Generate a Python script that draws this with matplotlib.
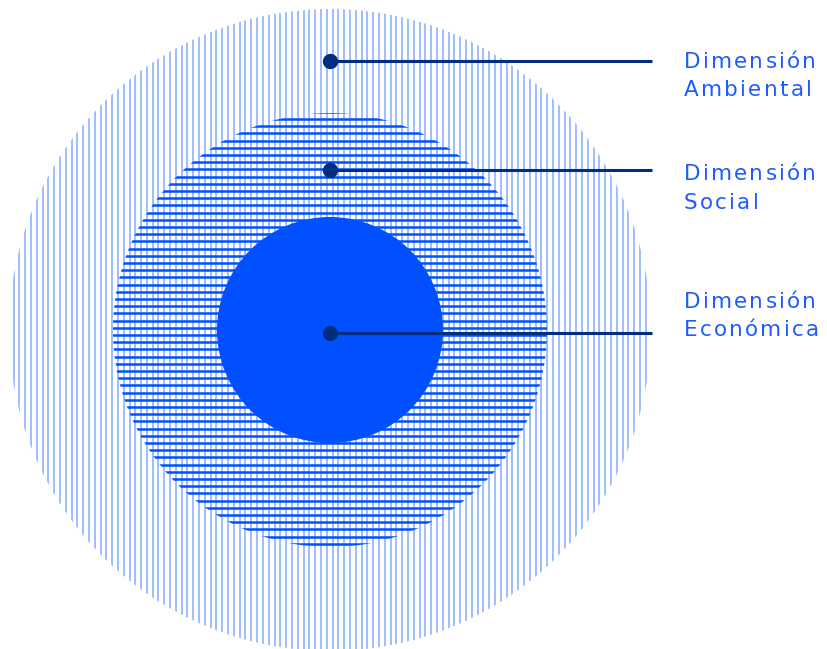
import numpy as np
import matplotlib
matplotlib.use('Agg')
import matplotlib.pyplot as plt
from matplotlib.patches import Circle
from matplotlib.font_manager import FontProperties

# data: the three nested dimensions (outer -> inner)
labels = [['Dimensión', 'Ambiental'], ['Dimensión', 'Social'], ['Dimensión', 'Económica']]
radii = [321, 217, 113]
marker_y = [61, 170, 333]
baselines = [[67.5, 96], [180.5, 209], [307.5, 336.5]]

cx, cy = 330, 330

light = '#8aaeff'
blue = '#0050ff'
navy = '#002d80'
text_col = '#1f5cff'

fig = plt.figure(figsize=(8.27, 6.49), dpi=100)
ax = fig.add_axes([0, 0, 1, 1])
ax.set_xlim(0, 827)
ax.set_ylim(649, 0)
ax.axis('off')

# outer circle: vertical hatch lines
outer = Circle((cx, cy), radii[0], transform=ax.transData, facecolor='none', edgecolor='none')
ax.add_patch(outer)
for x in np.arange(13.5 - 5.8, cx + radii[0], 5.8):
    ln = ax.plot([x, x], [0, 649], color=light, lw=1.15, solid_capstyle='butt')[0]
    ln.set_clip_path(outer)

# middle circle: horizontal hatch lines
middle = Circle((cx, cy), radii[1], transform=ax.transData, facecolor='none', edgecolor='none')
ax.add_patch(middle)
for y in np.arange(111.7, cy + radii[1], 7.2):
    ln = ax.plot([0, 827], [y, y], color=blue, lw=1.8, solid_capstyle='butt')[0]
    ln.set_clip_path(middle)

# inner circle: solid
ax.add_patch(Circle((cx, cy), radii[2], facecolor=blue, edgecolor='none', zorder=3))

# markers and leader lines
for my in marker_y:
    ax.plot([cx, 652], [my, my], color=navy, lw=2.2, zorder=4, solid_capstyle='butt')
    ax.plot(cx, my, 'o', color=navy, ms=10, zorder=5)

# labels with slight letter spacing (drawn char by char)
fp = FontProperties(family='DejaVu Sans', size=15.5)
renderer = fig.canvas.get_renderer()

def text_w(s):
    if not s:
        return 0.0
    return renderer.get_text_width_height_descent(s, fp, ismath=False)[0]

natural = text_w('Dimensión')
track = max((132 - natural) / 8, 0)

for lines, bls in zip(labels, baselines):
    for s, bl in zip(lines, bls):
        for i, ch in enumerate(s):
            x = 684 + text_w(s[:i]) + i * track
            ax.text(x, bl, ch, color=text_col, fontproperties=fp, va='baseline', ha='left')

fig.savefig('out.png', dpi=100)
